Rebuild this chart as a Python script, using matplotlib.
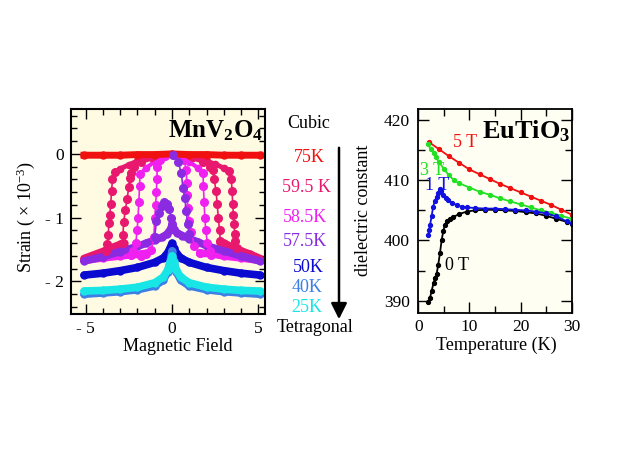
import matplotlib
matplotlib.use("Agg")
import matplotlib.pyplot as plt
from matplotlib.ticker import FixedLocator, MultipleLocator

plt.rcParams['font.family'] = ['Liberation Serif', 'DejaVu Serif']
plt.rcParams['mathtext.fontset'] = 'custom'
plt.rcParams['mathtext.rm'] = 'Liberation Serif'
plt.rcParams['mathtext.bf'] = 'Liberation Serif:bold'
plt.rcParams['mathtext.it'] = 'Liberation Serif:italic'

# ---------------- MnV2O4 strain vs field ----------------
# 75 K
h_75 = [-5.1, -4.0, -3.0, -2.0, -1.0, 0.0, 1.0, 2.0, 3.0, 4.0, 5.1]
s_75 = [-0.02, -0.02, -0.02, -0.01, -0.01, 0.0, -0.01, -0.01, -0.02, -0.02, -0.02]

# 59.5 K
h_595_band_l = [-5.1, -4.5, -4.0, -3.5, -3.0, -2.8]
s_595_band_l = [-1.64, -1.58, -1.53, -1.47, -1.42, -1.40]
h_595_band_r = [2.8, 3.0, 3.5, 4.0, 4.5, 5.1]
s_595_band_r = [-1.38, -1.40, -1.46, -1.52, -1.57, -1.64]
h_595_arc = [-3.3, -3.0, -2.5, -2.0, -1.5, -1.0, -0.5, 0.0, 0.5, 1.0, 1.5, 2.0, 2.5, 3.0, 3.3]
s_595_arc = [-0.28, -0.23, -0.17, -0.11, -0.07, -0.04, -0.01, 0.0, -0.01, -0.04, -0.07, -0.11, -0.16, -0.22, -0.26]
h_595_out_l = [-3.3, -3.45, -3.5, -3.55, -3.6, -3.65, -3.7, -3.75, -3.85]
s_595_out_l = [-0.28, -0.4, -0.58, -0.78, -0.95, -1.08, -1.27, -1.42, -1.52]
h_595_in_l = [-2.85, -2.84, -2.8, -2.7, -2.6, -2.5, -2.45, -2.4, -2.2, -1.8, -1.2]
s_595_in_l = [-1.40, -1.27, -1.06, -0.88, -0.7, -0.52, -0.38, -0.3, -0.2, -0.12, -0.05]
h_595_out_r = [3.3, 3.44, 3.48, 3.52, 3.56, 3.6, 3.63, 3.66, 3.75]
s_595_out_r = [-0.26, -0.4, -0.58, -0.78, -0.95, -1.1, -1.25, -1.37, -1.48]
h_595_in_r = [1.2, 1.8, 2.2, 2.37, 2.45, 2.55, 2.62, 2.68, 2.76, 2.8]
s_595_in_r = [-0.05, -0.12, -0.2, -0.25, -0.4, -0.58, -0.78, -1.0, -1.2, -1.37]

# 58.5 K
h_585_band_l = [-5.1, -4.0, -3.0, -2.35, -1.8, -1.48]
s_585_band_l = [-1.67, -1.63, -1.6, -1.58, -1.57, -1.56]
h_585_band_r = [1.6, 2.18, 3.0, 4.0, 5.1]
s_585_band_r = [-1.56, -1.56, -1.6, -1.63, -1.67]
h_585_arc = [-1.85, -1.5, -1.0, -0.5, 0.0, 0.5, 1.0, 1.5, 1.8]
s_585_arc = [-0.32, -0.22, -0.12, -0.04, -0.01, -0.04, -0.12, -0.22, -0.3]
h_585_out_l = [-1.85, -1.88, -1.92, -1.97, -2.02, -2.1, -2.25, -2.35]
s_585_out_l = [-0.32, -0.5, -0.75, -1.0, -1.2, -1.4, -1.52, -1.58]
h_585_in_l = [-1.8, -1.5, -1.2, -1.05, -1.0, -0.95, -0.9, -0.88, -0.85, -0.7, -0.4]
s_585_in_l = [-1.6, -1.57, -1.5, -1.3, -1.01, -0.8, -0.59, -0.4, -0.2, -0.1, -0.03]
h_585_out_r = [1.8, 1.82, 1.86, 1.9, 1.96, 2.05, 2.2, 2.28]
s_585_out_r = [-0.3, -0.5, -0.75, -1.0, -1.2, -1.4, -1.52, -1.58]
h_585_in_r = [0.4, 0.7, 0.83, 0.85, 0.88, 0.92, 0.98, 1.12, 1.3, 1.6]
s_585_in_r = [-0.03, -0.1, -0.25, -0.45, -0.65, -0.85, -1.05, -1.22, -1.45, -1.56]

# 57.5 K
h_575_band = [-5.1, -4.0, -3.0, -2.0, -1.5, -1.0, -0.6, -0.3, -0.1, 0.0, 0.1, 0.3, 0.6, 1.0, 1.5, 2.0, 3.0, 4.0, 5.1]
s_575_band = [-1.68, -1.61, -1.53, -1.45, -1.40, -1.35, -1.31, -1.26, -1.19, -1.12, -1.18, -1.24, -1.28, -1.33, -1.38, -1.44, -1.52, -1.60, -1.68]
h_575_hump = [-1.0, -0.9, -0.75, -0.6, -0.45, -0.3, -0.15, -0.05, 0.0]
s_575_hump = [-1.3, -1.05, -0.92, -0.82, -0.76, -0.78, -0.86, -1.0, -1.1]
h_575_top = [0.06, 0.35, 0.54, 0.64, 0.74, 0.83, 0.9, 1.0]
s_575_top = [-0.02, -0.12, -0.3, -0.54, -0.69, -0.9, -1.1, -1.25]

# 50 K, 40 K, 25 K
h_low = [-5.1, -4.0, -3.0, -2.0, -1.0, -0.5, -0.25, -0.1, 0.0, 0.1, 0.25, 0.5, 1.0, 2.0, 3.0, 4.0, 5.1]
s_50 = [-1.90, -1.87, -1.83, -1.78, -1.70, -1.63, -1.55, -1.47, -1.40, -1.47, -1.55, -1.63, -1.70, -1.78, -1.83, -1.87, -1.90]
s_40 = [-2.20, -2.18, -2.16, -2.13, -2.07, -1.98, -1.85, -1.68, -1.52, -1.68, -1.85, -1.98, -2.07, -2.13, -2.16, -2.18, -2.20]
s_25 = [-2.15, -2.14, -2.12, -2.09, -2.02, -1.93, -1.82, -1.70, -1.60, -1.70, -1.82, -1.93, -2.02, -2.09, -2.12, -2.14, -2.15]

side_labels = ["75K", "59.5 K", "58.5K", "57.5K", "50K", "40K", "25K"]
side_y = [157, 187, 217, 242, 267, 288, 308]
side_x = [309, 306, 305, 305, 308, 307, 307]

# ---------------- EuTiO3 dielectric constant ----------------
t_5T = [2.0, 4.0, 6.0, 8.0, 10.0, 12.0, 14.0, 16.0, 18.0, 20.0, 22.0, 24.0, 26.0, 28.0, 30.0]
e_5T = [416.4, 415.2, 414.0, 412.9, 411.8, 411.0, 410.2, 409.4, 408.7, 408.0, 407.3, 406.6, 405.9, 405.1, 404.3]
t_3T = [1.8, 2.5, 3.0, 3.5, 4.0, 5.0, 6.0, 7.0, 8.0, 10.0, 12.0, 14.0, 16.0, 18.0, 20.0, 22.0, 24.0, 26.0, 28.0, 30.0]
e_3T = [416.0, 415.2, 414.5, 413.8, 413.1, 411.9, 410.8, 410.0, 409.5, 408.8, 408.1, 407.6, 407.0, 406.5, 406.0, 405.5, 405.0, 404.6, 404.1, 403.6]
t_1T = [1.96, 2.1, 2.3, 2.6, 2.9, 3.2, 3.6, 3.9, 4.24, 4.5, 4.9, 5.4, 5.9, 6.5, 7.5, 8.5, 9.5, 11, 13, 15, 17, 19, 21, 23, 25, 27, 29, 30]
e_1T = [400.9, 401.8, 402.6, 404.0, 405.6, 406.5, 407.3, 407.9, 408.5, 408.2, 407.5, 407.0, 406.7, 406.3, 405.9, 405.6, 405.5, 405.4, 405.3, 405.3, 405.2, 405.1, 405.0, 404.8, 404.5, 404.0, 403.2, 402.9]
t_0T = [1.96, 2.3, 2.6, 3.0, 3.3, 3.6, 3.9, 4.24, 4.57, 4.9, 5.2, 5.6, 6.2, 6.85, 8, 9.5, 11, 13, 15, 17, 19, 21, 23, 25, 27, 29, 30]
e_0T = [389.8, 390.5, 391.6, 393.0, 393.8, 394.5, 396.0, 397.9, 400.1, 401.6, 402.6, 403.2, 403.6, 403.9, 404.4, 404.8, 405.0, 405.1, 405.1, 405.0, 404.9, 404.7, 404.5, 404.1, 403.6, 403.1, 402.8]

C_RED = '#F01010'
C_CRIM = '#E8186E'
C_MAG = '#F020F0'
C_PUR = '#8A2BE2'
C_BLUE = '#0A0AD0'
C_MBLUE = '#3C7FE6'
C_CYAN = '#18E6E6'

fig = plt.figure(figsize=(6.4, 4.63), dpi=100)

def fx(px):
    return px / 640.0

def fy(py):
    return 1 - py / 463.0

# left panel
ax1 = fig.add_axes([fx(70.7), fy(314), fx(265) - fx(70.7), fy(109.3) - fy(314)])
ax1.set_facecolor('#FFFBE2')

band = dict(lw=5.5, marker='o', ms=5, solid_capstyle='round')
branch = dict(lw=1.2, marker='o', ms=5.5)

ax1.plot(h_585_band_l, s_585_band_l, color=C_MAG, **band)
ax1.plot(h_585_band_r, s_585_band_r, color=C_MAG, **band)
ax1.plot(h_595_band_l, s_595_band_l, color=C_CRIM, **band)
ax1.plot(h_595_band_r, s_595_band_r, color=C_CRIM, **band)
ax1.plot(h_575_band, s_575_band, color=C_PUR, **band)
ax1.plot(h_low, s_50, color=C_BLUE, **band)
ax1.plot(h_low, s_40, color=C_MBLUE, **band)
ax1.plot(h_low, s_25, color=C_CYAN, **band)

ax1.plot(h_595_arc, s_595_arc, color=C_CRIM, lw=3.5, marker='o', ms=4.5)
ax1.plot(h_585_arc, s_585_arc, color=C_MAG, lw=3, marker='o', ms=4.5)
for hh, ss in [(h_595_out_l, s_595_out_l), (h_595_in_l, s_595_in_l),
               (h_595_out_r, s_595_out_r), (h_595_in_r, s_595_in_r)]:
    ax1.plot(hh, ss, color=C_CRIM, **branch)
for hh, ss in [(h_585_out_l, s_585_out_l), (h_585_in_l, s_585_in_l),
               (h_585_out_r, s_585_out_r), (h_585_in_r, s_585_in_r)]:
    ax1.plot(hh, ss, color=C_MAG, **branch)
ax1.plot(h_75, s_75, color=C_RED, lw=5, marker='o', ms=5)
ax1.plot(h_575_hump, s_575_hump, color=C_PUR, **branch)
ax1.plot(h_575_top, s_575_top, color=C_PUR, **branch)

ax1.set_xlim(-5.87, 5.39)
ax1.set_ylim(-2.51, 0.70)
ax1.xaxis.set_major_locator(FixedLocator([-5, 0, 5]))
ax1.set_xticklabels(['- 5', '0', '5'])
ax1.xaxis.set_minor_locator(MultipleLocator(1))
ax1.yaxis.set_major_locator(FixedLocator([0, -1, -2]))
ax1.set_yticklabels(['0', '- 1', '- 2'])
ax1.yaxis.set_minor_locator(MultipleLocator(0.2))
ax1.tick_params(which='both', direction='in', top=True, right=True, labelsize=12.5)
ax1.tick_params(which='major', length=7, width=1, pad=5)
ax1.tick_params(which='minor', length=4, width=1)
for sp in ax1.spines.values():
    sp.set_linewidth(1.5)
ax1.set_xlabel('Magnetic Field', fontsize=13)
ax1.xaxis.set_label_coords(0.55, -0.118)
ax1.set_ylabel('Strain ( × 10$^{-3}$)', fontsize=13)
ax1.yaxis.set_label_coords(-0.175, 0.475)
ax1.text(0.99, 0.955, r'$\mathbf{MnV_2O_4}$', transform=ax1.transAxes,
         ha='right', va='top', fontsize=18)

# side labels and arrow
fig.text(fx(309), fy(124), 'Cubic', ha='center', va='center', fontsize=13)
side_colors = [C_RED, C_CRIM, C_MAG, C_PUR, C_BLUE, C_MBLUE, C_CYAN]
for lab, x, y, c in zip(side_labels, side_x, side_y, side_colors):
    fig.text(fx(x), fy(y), lab, ha='center', va='center', fontsize=13, color=c)
fig.text(fx(315), fy(328), 'Tetragonal', ha='center', va='center', fontsize=13)
fig.add_artist(matplotlib.patches.FancyArrowPatch(
    (fx(339), fy(145)), (fx(339), fy(322)), transform=fig.transFigure,
    arrowstyle='-|>', mutation_scale=24, lw=1.8, color='black'))

# right panel
ax2 = fig.add_axes([fx(418.3), fy(313.3), fx(571.7) - fx(418.3), fy(109.3) - fy(313.3)])
ax2.set_facecolor('#FFFEF3')
pts = dict(lw=1.3, marker='o', ms=2.8)
ax2.plot(t_5T, e_5T, color='#F01010', **pts)
ax2.plot(t_3T, e_3T, color='#22E022', **pts)
ax2.plot(t_0T, e_0T, color='black', **pts)
ax2.plot(t_1T, e_1T, color='#1010E0', **pts)
ax2.set_xlim(0, 30)
ax2.set_ylim(387.9, 421.8)
ax2.xaxis.set_major_locator(FixedLocator([0, 10, 20, 30]))
ax2.xaxis.set_minor_locator(MultipleLocator(5))
ax2.yaxis.set_major_locator(FixedLocator([390, 400, 410, 420]))
ax2.yaxis.set_minor_locator(MultipleLocator(5))
ax2.tick_params(which='both', direction='in', top=True, right=True, labelsize=12.5)
ax2.tick_params(which='major', length=8, width=1, pad=6)
ax2.tick_params(axis='x', which='major', pad=4)
ax2.tick_params(which='minor', length=5, width=1)
for sp in ax2.spines.values():
    sp.set_linewidth(1.3)
ax2.set_xlabel('Temperature (K)', fontsize=13)
ax2.xaxis.set_label_coords(0.51, -0.115)
ax2.set_ylabel('dielectric constant', fontsize=13)
ax2.yaxis.set_label_coords(-0.30, 0.506)
ax2.text(0.995, 0.955, r'$\mathbf{EuTiO_3}$', transform=ax2.transAxes,
         ha='right', va='top', fontsize=19)
ax2.text(9.1, 416.2, '5 T', color='#F01010', fontsize=13, ha='center', va='center')
ax2.text(2.7, 411.7, '3 T', color='#22E022', fontsize=13, ha='center', va='center')
ax2.text(3.7, 409.2, '1 T', color='#1010E0', fontsize=13, ha='center', va='center')
ax2.text(7.6, 395.9, '0 T', color='black', fontsize=13, ha='center', va='center')

fig.savefig('out.png', dpi=100)
